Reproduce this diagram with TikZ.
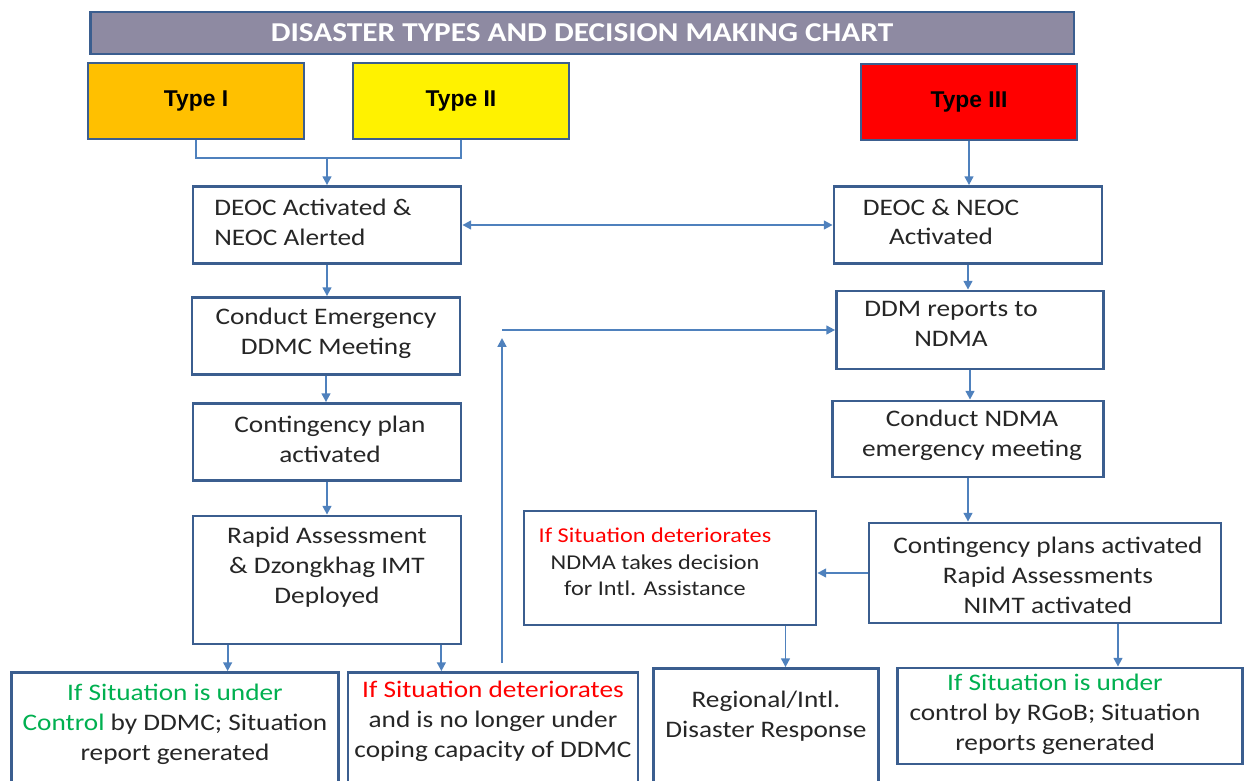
\documentclass[tikz,border=0pt]{standalone}
\usepackage{fontspec}
\setmainfont{Carlito}[FakeStretch=1.15]
\newfontfamily\typefont{Liberation Sans}
\usetikzlibrary{arrows.meta}
\definecolor{boxblue}{HTML}{3B5E8F}
\definecolor{arrowblue}{HTML}{4F81BD}
\definecolor{titlegray}{HTML}{8E8AA2}
\definecolor{typeone}{HTML}{FFC000}
\definecolor{okgreen}{HTML}{00B050}

\begin{document}
\begin{tikzpicture}[
    x=0.02cm, y=-0.02cm,
    box/.style={rectangle, draw=boxblue, line width=1.6pt, fill=white},
    typebox/.style={box, minimum width=4.32cm, minimum height=1.52cm, font=\typefont\bfseries\fontsize{13}{15}\selectfont},
    txt/.style={align=center, text=black!85, font=\fontsize{13.5}{17}\selectfont, inner sep=0pt},
    arrow/.style={->, >={Triangle[length=5pt,width=5pt]}, line width=1.1pt, draw=arrowblue},
    link/.style={line width=1.1pt, draw=arrowblue}
]
    \useasboundingbox (0,0) rectangle (1245,781);
    \clip (0,0) rectangle (1245,781);

    % Title and disaster types
    \node[box, fill=titlegray, minimum width=19.68cm, minimum height=0.84cm, text=white, font=\bfseries\fontsize{15.5}{17}\selectfont] (title) at (582,33) {DISASTER TYPES AND DECISION MAKING CHART};
    \node[typebox, fill=typeone] (t1) at (196,101) {Type I};
    \node[typebox, fill=yellow] (t2) at (461,101) {Type II};
    \node[typebox, fill=red] (t3) at (969,102) {Type III};

    % Left column: Dzongkhag level
    \node[box, minimum width=5.36cm, minimum height=1.54cm] (deoc) at (327,225) {};
    \node[txt, anchor=west, align=left] (deoctxt) at (214,222) {DEOC Activated \&\\NEOC Alerted};
    \node[box, minimum width=5.36cm, minimum height=1.54cm] (ddmc) at (326,336) {};
    \node[txt] (ddmctxt) at (326,333) {Conduct Emergency\\DDMC Meeting};
    \node[box, minimum width=5.36cm, minimum height=1.54cm] (cplan) at (327,442) {};
    \node[txt] (cplantxt) at (330,439) {Contingency plan\\activated};
    \node[box, minimum width=5.36cm, minimum height=2.56cm] (rapid) at (327,580) {};
    \node[txt] (rapidtxt) at (327,567) {Rapid Assessment\\\& Dzongkhag IMT\\Deployed};
    \node[box, minimum width=6.54cm, minimum height=2.94cm] (ctrl) at (175,746) {};
    \node[txt] (ctrltxt) at (175,724) {\textcolor{okgreen}{If Situation is under}\\\textcolor{okgreen}{Control} by DDMC; Situation\\report generated};
    \node[box, minimum width=5.8cm, minimum height=2.94cm] (detr) at (493,746) {};
    \node[txt] (detrtxt) at (493,721) {\textcolor{red}{If Situation deteriorates}\\and is no longer under\\coping capacity of DDMC};

    % Right column: national level
    \node[box, minimum width=5.36cm, minimum height=1.54cm] (neoc) at (968,225) {};
    \node[txt] (neoctxt) at (941,222) {DEOC \& NEOC\\Activated};
    \node[box, minimum width=5.34cm, minimum height=1.56cm] (ddm) at (970,330) {};
    \node[txt] (ddmtxt) at (951,324) {DDM reports to\\NDMA};
    \node[box, minimum width=5.42cm, minimum height=1.52cm] (ndma) at (968,439) {};
    \node[txt] (ndmatxt) at (972,435) {Conduct NDMA\\emergency meeting};
    \node[box, minimum width=7.04cm, minimum height=2.0cm] (cplans) at (1045,573) {};
    \node[txt] (cplanstxt) at (1048,575) {Contingency plans activated\\Rapid Assessments\\NIMT activated};
    \node[box, minimum width=5.84cm, minimum height=2.28cm] (intl) at (670,568) {};
    \node[txt, font=\fontsize{12}{15}\selectfont] (intltxt) at (655,562) {\textcolor{red}{If Situation deteriorates}\\NDMA takes decision\\for Intl. Assistance};
    \node[box, minimum width=4.5cm, minimum height=3.02cm] (regional) at (766,744) {};
    \node[txt] (regionaltxt) at (766,716) {Regional/Intl.\\Disaster Response};
    \node[box, minimum width=6.9cm, minimum height=1.92cm] (rgob) at (1070,716) {};
    \node[txt] (rgobtxt) at (1055,714) {\textcolor{okgreen}{If Situation is under}\\control by RGoB; Situation\\reports generated};

    % Connectors
    \coordinate (join) at (327,158);
    \draw[link] (t1.south) |- (join) -| (t2.south);
    \draw[arrow] (join) -- (deoc.north);
    \draw[arrow] (t3.south) -- (t3.south |- neoc.north);
    \draw[arrow, <->] (deoc.east) -- (neoc.west);
    \draw[arrow] (deoc.south) -- (deoc.south |- ddmc.north);
    \draw[arrow] (ddmc.south) -- (ddmc.south |- cplan.north);
    \draw[arrow] (cplan.south) -- (cplan.south |- rapid.north);
    \draw[arrow] ([xshift=0.72cm]rapid.south west) -- ([xshift=0.72cm]rapid.south west |- ctrl.north);
    \draw[arrow] ([xshift=-0.42cm]rapid.south east) -- ([xshift=-0.42cm]rapid.south east |- detr.north);
    \coordinate (rise) at (502,663);
    \coordinate (riseend) at (502,338);
    \coordinate (back) at (502,330);
    \draw[arrow] (rise) -- (riseend);
    \draw[arrow] (back) -- (ddm.west);
    \draw[arrow] (neoc.south) -- (neoc.south |- ddm.north);
    \draw[arrow] (ddm.south) -- (ddm.south |- ndma.north);
    \draw[arrow] (ndma.south) -- (ndma.south |- cplans.north);
    \draw[arrow] (cplans.west) -- (cplans.west -| intl.east);
    \draw[arrow] ([xshift=0.39cm]regional.north |- intl.south) -- ([xshift=0.39cm]regional.north);
    \draw[arrow] ([xshift=1.46cm]cplans.south) -- ([xshift=1.46cm]cplans.south |- rgob.north);
\end{tikzpicture}
\end{document}
